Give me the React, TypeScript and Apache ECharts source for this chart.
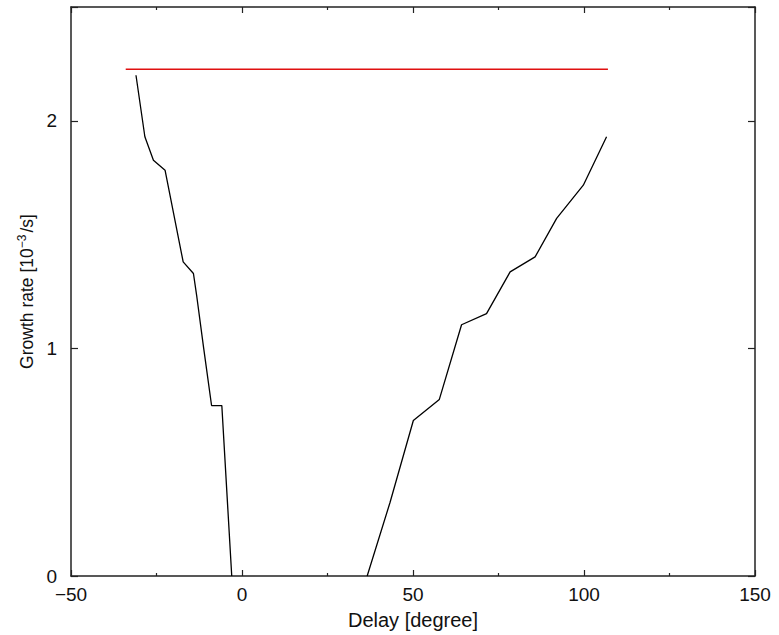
import React, { useEffect, useRef } from "react";
import * as echarts from "echarts";

const xTicks = { min: -50, max: 150, interval: 50 };
const yTicks = { min: 0, max: 2.5, interval: 1 };

// left (negative-delay) branch: [delay, growth rate]
const leftBranch: [number, number][] = [
  [-31.0, 2.2],
  [-28.4, 1.93],
  [-25.9, 1.827],
  [-22.5, 1.783],
  [-17.2, 1.38],
  [-14.2, 1.329],
  [-13.2, 1.226],
  [-11.2, 1.0],
  [-8.9, 0.749],
  [-5.9, 0.749],
  [-3.0, 0.0],
];

// right (positive-delay) branch
const rightBranch: [number, number][] = [
  [36.6, 0.0],
  [43.3, 0.324],
  [50.1, 0.683],
  [57.7, 0.776],
  [64.2, 1.104],
  [71.5, 1.153],
  [78.4, 1.336],
  [85.7, 1.402],
  [92.0, 1.571],
  [99.8, 1.717],
  [106.6, 1.93],
];

// reference level (red)
const refLevel: [number, number][] = [
  [-34, 2.227],
  [107, 2.227],
];

const FONT = "'Liberation Sans', Arial, Helvetica, sans-serif";
const FS = 19;

export default function App() {
  const ref = useRef<HTMLDivElement>(null);
  useEffect(() => {
    if (!ref.current) return;
    const chart = echarts.init(ref.current, undefined, { renderer: "svg" });
    const axisLine = { show: true, onZero: false, lineStyle: { color: "#222", width: 1.5 } };
    const tickStyle = { color: "#222", width: 1.2 };
    chart.setOption({
      animation: false,
      backgroundColor: "#fff",
      grid: { left: 71, right: 24, top: 7, bottom: 58, containLabel: false },
      xAxis: [
        {
          type: "value",
          position: "bottom",
          min: xTicks.min,
          max: xTicks.max,
          interval: xTicks.interval,
          name: "Delay [degree]",
          nameLocation: "middle",
          nameGap: 34,
          nameTextStyle: { fontFamily: FONT, fontSize: 20, color: "#111" },
          axisLine,
          axisTick: { show: true, inside: true, length: 6, lineStyle: tickStyle },
          minorTick: { show: true, splitNumber: 2, length: 3, lineStyle: tickStyle },
          axisLabel: {
            margin: 9,
            fontFamily: FONT,
            fontSize: FS,
            color: "#111",
            formatter: (v: number) => String(v).replace("-", "\u2212"),
          },
          splitLine: { show: false },
        },
        {
          type: "value",
          position: "top",
          min: xTicks.min,
          max: xTicks.max,
          interval: xTicks.interval,
          axisLine,
          axisTick: { show: true, inside: true, length: 6, lineStyle: tickStyle },
          minorTick: { show: true, splitNumber: 2, length: 3, lineStyle: tickStyle },
          axisLabel: { show: false },
          splitLine: { show: false },
        },
      ],
      yAxis: [
        {
          type: "value",
          position: "left",
          min: yTicks.min,
          max: yTicks.max,
          interval: yTicks.interval,
          name: "Growth rate [10{sup|\u22123}/s]",
          nameLocation: "middle",
          nameGap: 31,
          nameTextStyle: {
            fontFamily: FONT,
            fontSize: 17.5,
            color: "#111",
            rich: {
              sup: { fontFamily: FONT, fontSize: 12, color: "#111", verticalAlign: "top", padding: [0, 2, 9, 0] },
            },
          },
          axisLine,
          axisTick: { show: true, inside: true, length: 7, lineStyle: tickStyle },
          axisLabel: {
            margin: 14,
            fontFamily: FONT,
            fontSize: FS,
            color: "#111",
            formatter: (v: number) => (v === 2.5 ? "" : String(v)),
          },
          splitLine: { show: false },
        },
        {
          type: "value",
          position: "right",
          min: yTicks.min,
          max: yTicks.max,
          interval: yTicks.interval,
          axisLine,
          axisTick: { show: true, inside: true, length: 7, lineStyle: tickStyle },
          axisLabel: { show: false },
          splitLine: { show: false },
        },
      ],
      series: [
        {
          type: "line",
          data: leftBranch,
          showSymbol: false,
          lineStyle: { color: "#000", width: 1.3 },
          silent: true,
        },
        {
          type: "line",
          data: rightBranch,
          showSymbol: false,
          lineStyle: { color: "#000", width: 1.3 },
          silent: true,
        },
        {
          type: "line",
          data: refLevel,
          showSymbol: false,
          lineStyle: { color: "#e01010", width: 1.5 },
          silent: true,
        },
      ],
    });
    return () => chart.dispose();
  }, []);
  return <div ref={ref} style={{ width: 779, height: 635, position: "absolute", left: 0, top: 0 }} />;
}
